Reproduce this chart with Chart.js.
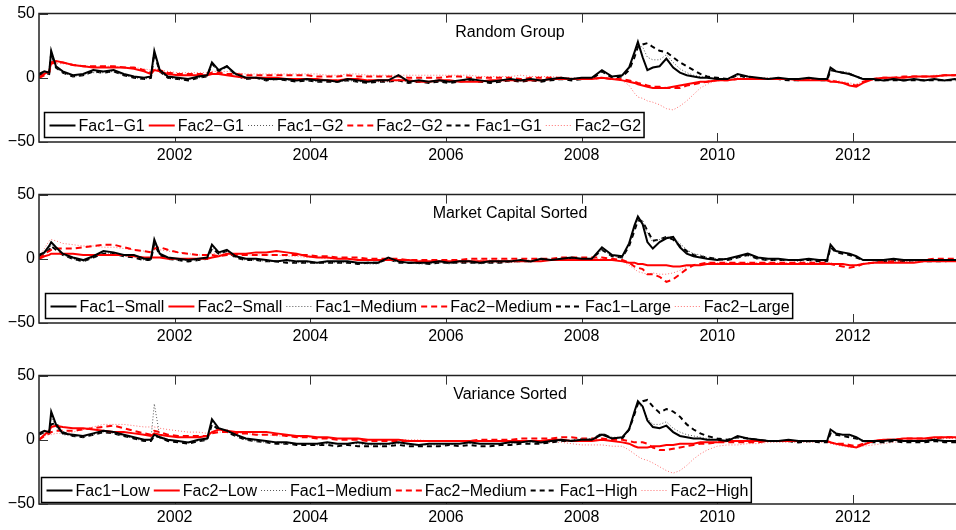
<!DOCTYPE html>
<html>
<head>
<meta charset="utf-8">
<script src="https://cdn.jsdelivr.net/npm/chart.js@4.4.1/dist/chart.umd.min.js"></script>
<style>
  html, body { margin: 0; padding: 0; background: #fff; overflow: hidden; }
  .panel { position: absolute; left: 0; width: 956px; height: 166px; }
</style>
</head>
<body>
<div class="panel" style="top:0px"><canvas id="c1" width="956" height="166"></canvas></div>
<div class="panel" style="top:181px"><canvas id="c2" width="956" height="166"></canvas></div>
<div class="panel" style="top:362px"><canvas id="c3" width="956" height="166"></canvas></div>
<script>
// Dates (decimal years) shared by every series
const dates = [
  2000.00, 2000.08, 2000.15, 2000.18, 2000.25, 2000.35, 2000.50, 2000.65, 2000.80, 2000.95,
  2001.10, 2001.25, 2001.40, 2001.55, 2001.65, 2001.70, 2001.78, 2001.90, 2002.05, 2002.20,
  2002.35, 2002.48, 2002.55, 2002.65, 2002.77, 2002.90, 2003.05, 2003.20, 2003.35, 2003.50,
  2003.65, 2003.80, 2003.95, 2004.10, 2004.25, 2004.40, 2004.55, 2004.70, 2004.85, 2005.00,
  2005.15, 2005.30, 2005.45, 2005.60, 2005.75, 2005.90, 2006.05, 2006.20, 2006.35, 2006.50,
  2006.65, 2006.80, 2006.95, 2007.10, 2007.25, 2007.40, 2007.55, 2007.70, 2007.85, 2008.00,
  2008.15, 2008.30, 2008.45, 2008.60, 2008.70, 2008.78, 2008.83, 2008.90, 2008.97, 2009.05,
  2009.15, 2009.25, 2009.35, 2009.45, 2009.55, 2009.65, 2009.75, 2009.85, 2010.00, 2010.15,
  2010.30, 2010.45, 2010.60, 2010.75, 2010.90, 2011.05, 2011.20, 2011.35, 2011.50, 2011.62,
  2011.67, 2011.75, 2011.85, 2011.95, 2012.05, 2012.15, 2012.30, 2012.45, 2012.60, 2012.75,
  2012.90, 2013.05, 2013.20, 2013.35, 2013.50, 2013.60
];

const xTicks = [2002, 2004, 2006, 2008, 2010, 2012];
const yTicks = [-50, 0, 50];

// --- Random Group ---
const randomNames = ['Fac1\u2212G1', 'Fac2\u2212G1', 'Fac1\u2212G2', 'Fac2\u2212G2', 'Fac1\u2212G1', 'Fac2\u2212G2'];
const randFac1G1 = [
  3, 5, 4, 21, 9, 5, 2, 3, 6, 5,
  6, 3, 1, 0, 1, 21, 6, 1, 0, -1,
  1, 2, 12, 6, 9, 3, 0, 0, -1, -1,
  -1, -2, -1, -2, -2, -3, -1, -2, -3, -2,
  -2, 2, -3, -2, -3, -2, -3, -2, -1, -2,
  -3, -2, -1, -2, -1, -2, -1, 0, -1, 0,
  0, 6, 1, 2, 8, 20, 28, 16, 6, 8,
  9, 15, 8, 4, 2, 1, 0, 0, -1, -1,
  3, 1, 0, -1, 0, -1, -1, 0, -1, -1,
  8, 5, 4, 3, 1, -1, -1, -2, -1, -2,
  -1, -2, -1, -2, -1, -2
];
const randFac2G1 = [
  0, 3, 5, 12, 13, 12, 10, 9, 8, 8,
  8, 8, 7, 5, 3, 6, 5, 3, 2, 2,
  2, 2, 3, 3, 2, 1, 0, 0, 0, 0,
  -1, -1, -1, -1, -2, -2, -1, -1, -2, -2,
  -2, -2, -2, -3, -3, -2, -2, -3, -3, -3,
  -2, -2, -2, -2, -2, -2, -1, -1, -1, -1,
  -1, 0, -1, -2, -3, -4, -5, -6, -7, -8,
  -8, -8, -7, -6, -5, -4, -3, -3, -2, -2,
  -1, -1, -1, -1, -1, -1, -2, -2, -2, -2,
  -3, -3, -4, -6, -7, -4, -1, 0, 0, 0,
  1, 1, 1, 2, 2, 3
];
const randFac1G2 = [
  2, 4, 3, 18, 8, 4, 1, 2, 4, 4,
  5, 2, 0, -1, 0, 19, 5, 0, -1, -1,
  0, 1, 10, 5, 8, 2, -1, 0, -2, -1,
  -2, -2, -2, -3, -2, -3, -2, -3, -3, -3,
  -3, -2, -3, -3, -3, -3, -3, -3, -2, -3,
  -3, -3, -2, -2, -2, -2, -1, 0, -1, 0,
  0, 5, 1, 2, 7, 18, 25, 24, 16, 14,
  14, 18, 12, 7, 4, 2, 1, 0, -1, -1,
  2, 1, 0, -1, -1, -1, -2, -1, -1, -1,
  7, 5, 5, 4, 1, -1, -1, -2, -1, -2,
  -1, -2, -1, -2, -1, -2
];
const randFac2G2 = [
  0, 2, 4, 11, 12, 12, 10, 9, 9, 9,
  9, 8, 8, 6, 4, 7, 6, 4, 3, 3,
  3, 3, 4, 4, 3, 3, 2, 2, 2, 2,
  2, 2, 2, 1, 1, 1, 2, 1, 1, 1,
  1, 1, 0, 0, 0, 0, 1, 1, 0, 0,
  0, 0, 0, -1, 0, 0, 0, 0, -1, -1,
  -1, 0, -1, -1, -2, -3, -4, -5, -6, -7,
  -7, -8, -8, -8, -6, -5, -4, -3, -2, -2,
  -1, -1, -1, -1, -1, -1, -1, -1, -1, -2,
  -2, -3, -4, -5, -6, -3, -1, 0, 0, 1,
  1, 1, 1, 2, 2, 2
];
const randFac1G1b = [
  2, 4, 3, 19, 8, 4, 1, 2, 5, 4,
  5, 2, 0, -1, 0, 19, 5, 0, -1, -2,
  0, 1, 11, 5, 9, 2, -1, 0, -2, -1,
  -2, -3, -2, -3, -3, -3, -2, -3, -4, -3,
  -3, -2, -4, -3, -4, -3, -4, -3, -2, -3,
  -4, -3, -2, -3, -2, -3, -2, -1, -2, -1,
  -1, 5, 0, 1, 6, 16, 24, 26, 27, 24,
  21, 20, 16, 12, 9, 6, 3, 1, 0, -1,
  2, 0, -1, -1, -1, -2, -2, -1, -2, -2,
  6, 5, 4, 3, 1, -1, -2, -2, -2, -2,
  -2, -2, -2, -2, -2, -2
];
const randFac2G2b = [
  1, 3, 5, 10, 11, 11, 10, 9, 9, 9,
  9, 8, 8, 7, 6, 7, 6, 5, 4, 4,
  4, 4, 5, 5, 5, 4, 3, 3, 3, 3,
  3, 3, 3, 3, 2, 2, 3, 3, 2, 2,
  2, 2, 2, 2, 2, 2, 2, 2, 2, 1,
  1, 1, 1, 2, 1, 1, 1, 0, 0, 0,
  0, 0, -1, -2, -6, -12, -15, -16, -18, -19,
  -21, -24, -25, -22, -18, -13, -8, -5, -2, -1,
  0, 0, 0, 0, -1, -1, -1, -1, -1, -1,
  -2, -2, -3, -4, -5, -3, -1, 0, 0, 1,
  1, 1, 2, 2, 2, 2
];

// --- Market Capital Sorted ---
const capNames = ['Fac1\u2212Small', 'Fac2\u2212Small', 'Fac1\u2212Medium', 'Fac2\u2212Medium', 'Fac1\u2212Large', 'Fac2\u2212Large'];
const capFac1Small = [
  3, 5, 10, 13, 9, 4, 1, -1, 2, 6,
  5, 3, 3, 0, 0, 15, 4, 1, 0, -1,
  0, 1, 11, 5, 7, 2, 0, 0, -1, -2,
  -1, -2, -2, -3, -2, -2, -2, -3, -3, -3,
  1, -2, -3, -3, -3, -2, -3, -2, -2, -3,
  -2, -2, -2, -1, -2, 0, -1, 0, 1, 0,
  0, 9, 3, 2, 12, 26, 33, 27, 13, 8,
  13, 16, 17, 9, 4, 2, 1, 0, -1, 0,
  2, 4, 1, 0, 0, -1, -1, 0, -1, -1,
  11, 6, 5, 4, 2, -1, -1, -1, 0, -1,
  -1, -1, -1, -1, -1, -1
];
const capFac2Small = [
  0, 2, 3, 4, 4, 4, 4, 3, 3, 3,
  3, 3, 2, 1, 1, 1, 1, 0, 0, 0,
  0, 0, 1, 2, 4, 4, 4, 5, 5, 6,
  5, 4, 2, 1, 1, 0, 0, -1, -1, -1,
  -1, -1, -1, -2, -2, -2, -2, -2, -2, -2,
  -2, -2, -2, -2, -2, -2, -1, -1, -1, -1,
  -1, -1, -1, -2, -3, -3, -4, -4, -5, -5,
  -5, -5, -6, -6, -5, -5, -5, -4, -4, -4,
  -4, -4, -4, -4, -4, -4, -4, -4, -4, -4,
  -4, -4, -4, -5, -5, -4, -3, -3, -3, -3,
  -3, -2, -2, -2, -2, -2
];
const capFac1Medium = [
  2, 4, 8, 11, 8, 3, 0, -2, 1, 5,
  4, 2, 2, -1, -1, 13, 4, 0, -1, -1,
  -1, 0, 9, 4, 6, 1, -1, -1, -2, -2,
  -2, -3, -3, -3, -3, -3, -3, -3, -4, -4,
  0, -3, -3, -4, -4, -3, -4, -3, -3, -4,
  -3, -3, -3, -2, -2, -1, -1, -1, 0, -1,
  -1, 7, 2, 1, 11, 24, 31, 30, 20, 13,
  15, 17, 17, 12, 7, 4, 3, 1, 0, -1,
  1, 3, 0, -1, -1, -1, -2, -1, -1, -2,
  10, 6, 5, 4, 2, -1, -1, -2, -1, -2,
  -2, -2, -2, -2, -2, -2
];
const capFac2Medium = [
  0, 4, 6, 7, 8, 8, 8, 9, 10, 11,
  11, 9, 7, 6, 5, 8, 9, 7, 5, 4,
  3, 3, 3, 2, 3, 3, 3, 3, 3, 3,
  3, 3, 3, 2, 2, 1, 1, 1, 0, 0,
  0, 0, -1, -1, -1, -1, -1, -1, 0, 0,
  0, 0, 0, 0, 0, 0, 0, 1, 1, 1,
  1, 1, 0, -1, -3, -6, -7, -8, -12, -12,
  -14, -18, -16, -12, -8, -5, -4, -3, -3, -3,
  -3, -3, -3, -3, -3, -3, -3, -3, -3, -3,
  -4, -5, -6, -7, -6, -4, -3, -2, -2, -1,
  -1, -1, 0, 0, 0, 0
];
const capFac1Large = [
  2, 4, 7, 10, 7, 3, 0, -2, 1, 4,
  4, 2, 1, -1, -1, 12, 3, 0, -1, -2,
  -1, 0, 8, 4, 6, 1, -1, -1, -2, -2,
  -3, -3, -3, -3, -3, -3, -3, -4, -3, -3,
  0, -3, -3, -3, -4, -3, -3, -3, -3, -3,
  -3, -3, -2, -2, -2, -1, -1, 0, 0, -1,
  0, 7, 2, 1, 10, 22, 30, 29, 22, 14,
  15, 17, 15, 10, 6, 3, 2, 1, 0, -1,
  1, 3, 0, -1, -1, -1, -1, -1, -2, -2,
  9, 5, 4, 3, 1, -1, -1, -2, -1, -2,
  -1, -2, -2, -2, -1, -2
];
const capFac2Large = [
  2, 8, 14, 15, 14, 12, 11, 10, 10, 9,
  9, 8, 7, 6, 5, 7, 7, 6, 5, 4,
  3, 3, 4, 4, 4, 4, 3, 3, 3, 3,
  2, 2, 1, 1, 0, 0, 0, 0, -1, -1,
  -1, -1, -1, -1, -2, -2, -2, -2, -1, -1,
  -1, -1, -1, -1, -1, -1, -1, -1, 0, 0,
  0, 0, -1, -2, -5, -8, -10, -11, -12, -11,
  -12, -12, -11, -9, -6, -5, -4, -3, -3, -3,
  -3, -3, -3, -3, -3, -3, -3, -3, -3, -3,
  -3, -4, -4, -5, -5, -4, -3, -3, -3, -2,
  -2, -2, -2, -2, -2, -2
];

// --- Variance Sorted ---
const varNames = ['Fac1\u2212Low', 'Fac2\u2212Low', 'Fac1\u2212Medium', 'Fac2\u2212Medium', 'Fac1\u2212High', 'Fac2\u2212High'];
const varFac1Low = [
  5, 7, 6, 22, 12, 5, 4, 3, 5, 7,
  6, 4, 2, 0, 0, 4, 2, 0, -1, -2,
  0, 1, 16, 9, 7, 4, 1, 0, -1, -2,
  -2, -3, -3, -3, -2, -3, -3, -2, -3, -3,
  -3, -2, -3, -4, -3, -3, -3, -3, -2, -3,
  -3, -3, -2, -2, -1, -2, -1, 0, -1, 0,
  0, 4, 1, 2, 8, 22, 30, 26, 15, 10,
  9, 11, 6, 3, 2, 1, 1, 0, 0, -1,
  3, 1, 0, -1, -1, 0, -1, -1, -1, -1,
  8, 5, 4, 4, 2, -1, -1, -1, 0, -1,
  -1, -1, 0, -1, -1, 0
];
const varFac2Low = [
  0, 4, 7, 10, 11, 10, 9, 9, 8, 7,
  6, 6, 5, 4, 3, 5, 4, 3, 2, 2,
  2, 3, 6, 8, 7, 6, 6, 6, 6, 5,
  4, 3, 3, 2, 2, 1, 1, 1, 0, 0,
  0, 0, -1, -1, -1, -1, -1, -1, -1, -1,
  -1, -1, -1, -1, -1, -1, 0, 0, -1, -1,
  -1, 0, -1, -2, -3, -5, -6, -6, -6, -5,
  -5, -4, -4, -3, -3, -3, -2, -2, -2, -1,
  -1, -1, -1, -1, -1, -1, -1, -1, -1, -1,
  -2, -3, -4, -5, -6, -4, -1, 0, 0, 1,
  1, 1, 2, 2, 2, 2
];
const varFac1Medium = [
  4, 6, 5, 18, 10, 4, 3, 2, 4, 6,
  5, 3, 1, -1, 0, 28, 3, 0, -1, -2,
  -1, 0, 14, 8, 8, 3, 0, -1, -2, -2,
  -3, -3, -3, -4, -3, -3, -3, -3, -4, -4,
  -4, -3, -4, -4, -4, -4, -4, -3, -3, -3,
  -3, -3, -3, -2, -2, -2, -1, -1, 0, 1,
  1, 5, 2, 2, 8, 22, 28, 25, 17, 12,
  12, 14, 9, 6, 4, 3, 2, 1, 0, -1,
  2, 1, 0, -1, -1, -1, -1, -1, -1, -1,
  6, 5, 4, 3, 1, -1, -1, -1, 0, -1,
  -1, -1, 0, -1, -1, -1
];
const varFac2Medium = [
  0, 3, 5, 6, 7, 7, 7, 8, 9, 10,
  11, 9, 7, 5, 4, 7, 6, 4, 3, 3,
  3, 3, 5, 6, 6, 5, 5, 4, 4, 4,
  3, 2, 2, 1, 1, 0, 0, 0, -1, -1,
  -1, -1, -1, -1, -1, -1, -1, -1, -1, 0,
  0, 0, 0, 1, 1, 1, 1, 2, 2, 1,
  1, 1, 0, 0, -1, -2, -2, -2, -3, -6,
  -8, -8, -7, -6, -5, -4, -3, -3, -2, -2,
  -2, -2, -2, -1, -1, -1, -1, -1, -1, -1,
  -2, -3, -3, -4, -5, -3, -1, 0, 0, 1,
  1, 1, 1, 2, 2, 2
];
const varFac1High = [
  4, 6, 5, 12, 13, 6, 3, 2, 4, 6,
  5, 3, 1, -1, -1, 3, 2, -1, -2, -3,
  -1, 0, 12, 8, 6, 3, 0, -1, -2, -3,
  -3, -4, -4, -4, -4, -5, -4, -5, -5, -5,
  -5, -4, -5, -5, -5, -5, -4, -5, -4, -5,
  -5, -4, -4, -3, -3, -3, -2, -1, -1, 0,
  0, 5, 1, 1, 8, 20, 28, 30, 31, 26,
  21, 24, 22, 18, 12, 8, 5, 3, 1, 0,
  2, 1, 0, -1, -1, -1, -2, -1, -2, -2,
  5, 4, 3, 2, 1, -1, -2, -2, -1, -2,
  -2, -2, -1, -2, -2, -2
];
const varFac2High = [
  2, 3, 4, 4, 5, 5, 6, 8, 10, 12,
  12, 12, 11, 10, 10, 10, 9, 8, 7, 6,
  6, 5, 6, 6, 6, 5, 5, 4, 4, 3,
  3, 2, 2, 2, 1, 1, 1, 0, 0, 0,
  0, 0, 0, 0, -1, -1, -1, -1, -1, -1,
  -1, -1, -1, -1, -1, -2, -2, -2, -3, -4,
  -4, -4, -5, -5, -8, -11, -13, -15, -16, -18,
  -21, -24, -26, -24, -20, -15, -11, -8, -5, -4,
  -4, -3, -3, -2, -2, -2, -2, -2, -2, -2,
  -3, -4, -5, -6, -6, -5, -4, -3, -2, -1,
  -1, 0, 1, 1, 1, 1
];

// line styles, same order in every panel
const styles = [
  { color: '#000000', width: 2, dash: [] },
  { color: '#ff0000', width: 2, dash: [] },
  { color: '#555555', width: 1, dash: [1, 2] },
  { color: '#ff0000', width: 2, dash: [6, 4] },
  { color: '#000000', width: 2, dash: [5, 4] },
  { color: '#ff7070', width: 1, dash: [1, 2] }
];

const FONT = '"Liberation Sans", Arial, Helvetica, sans-serif';
Chart.defaults.font.family = FONT;
Chart.defaults.font.size = 16;
Chart.defaults.color = '#000';

// axes box with inward ticks, drawn over the lines
const frame = {
  id: 'frame',
  afterDatasetsDraw(chart) {
    const { ctx, chartArea: a, scales } = chart;
    ctx.save();
    ctx.strokeStyle = '#222';
    ctx.lineWidth = 1.5;
    ctx.beginPath();
    ctx.moveTo(a.right + 2, a.top);
    ctx.lineTo(a.left, a.top);
    ctx.lineTo(a.left, a.bottom);
    ctx.lineTo(a.right + 2, a.bottom);
    ctx.stroke();
    ctx.lineWidth = 1;
    ctx.strokeStyle = '#333';
    const tl = 9;
    ctx.beginPath();
    xTicks.forEach(v => {
      const x = Math.round(scales.x.getPixelForValue(v)) + 0.5;
      ctx.moveTo(x, a.top); ctx.lineTo(x, a.top + tl);
      ctx.moveTo(x, a.bottom); ctx.lineTo(x, a.bottom - tl);
    });
    yTicks.forEach(v => {
      const y = Math.round(scales.y.getPixelForValue(v)) + 0.5;
      ctx.moveTo(a.left, y); ctx.lineTo(a.left + tl, y);
    });
    ctx.stroke();
    ctx.restore();
  }
};

// title text inside the axes
const innerTitle = {
  id: 'innerTitle',
  afterDatasetsDraw(chart, args, opts) {
    const { ctx, chartArea: a } = chart;
    ctx.save();
    ctx.font = '16px ' + FONT;
    ctx.fillStyle = '#000';
    ctx.textAlign = 'center';
    ctx.textBaseline = 'middle';
    ctx.fillText(opts.text, 510, a.top + 19);
    ctx.restore();
  }
};

// one-row legend box at the bottom-left of the axes
const legendBox = {
  id: 'legendBox',
  afterDatasetsDraw(chart, args, opts) {
    const { ctx, chartArea: a } = chart;
    const sets = chart.data.datasets;
    ctx.save();
    ctx.font = '16px ' + FONT;
    const widths = sets.map(ds => ctx.measureText(ds.label).width);
    const sample = 26, gap = 3, sep = 4, pad = 5, h = 25;
    let w = pad + 3;
    widths.forEach((tw, i) => { w += sample + gap + tw + (i < widths.length - 1 ? sep : 0); });
    const x0 = Math.round(a.left + opts.left) + 0.5;
    const y0 = Math.round(a.bottom - opts.bottom - h) + 0.5;
    ctx.fillStyle = '#fff';
    ctx.fillRect(x0, y0, w, h);
    ctx.strokeStyle = '#000';
    ctx.lineWidth = 1.5;
    ctx.strokeRect(x0, y0, w, h);
    let x = x0 + pad;
    const yc = Math.round(y0 + h / 2) + 0.5;
    sets.forEach((ds, i) => {
      ctx.beginPath();
      ctx.setLineDash(ds.borderDash);
      ctx.strokeStyle = ds.borderColor;
      ctx.lineWidth = ds.borderWidth;
      ctx.moveTo(x, yc);
      ctx.lineTo(x + sample, yc);
      ctx.stroke();
      ctx.setLineDash([]);
      ctx.fillStyle = '#000';
      ctx.textBaseline = 'middle';
      ctx.fillText(ds.label, x + sample + gap, yc + 1);
      x += sample + gap + widths[i] + sep;
    });
    ctx.restore();
  }
};

function makePanel(id, title, names, series, legendPos) {
  const datasets = series.map((vals, i) => ({
    label: names[i],
    data: dates.map((d, k) => ({ x: d, y: vals[k] })),
    borderColor: styles[i].color,
    borderWidth: styles[i].width,
    borderDash: styles[i].dash,
    pointRadius: 0,
    tension: 0,
    fill: false
  }));
  return new Chart(document.getElementById(id), {
    type: 'line',
    data: { datasets },
    options: {
      responsive: false,
      animation: false,
      devicePixelRatio: 1,
      layout: { padding: { top: 12, left: 0, right: 0, bottom: 0 } },
      scales: {
        x: {
          type: 'linear',
          min: 2000,
          max: 2013.52,
          grid: { display: false, drawTicks: false },
          border: { display: false },
          afterBuildTicks: s => { s.ticks = xTicks.map(v => ({ value: v })); },
          afterFit: s => { s.height = 24; },
          ticks: { padding: 4, maxRotation: 0, autoSkip: false, callback: v => String(v) }
        },
        y: {
          min: -50,
          max: 50,
          grid: { display: false, drawTicks: false },
          border: { display: false },
          afterBuildTicks: s => { s.ticks = yTicks.map(v => ({ value: v })); },
          afterFit: s => { s.width = 39; },
          ticks: { padding: 4, callback: v => String(v).replace('-', '\u2212') }
        }
      },
      plugins: {
        legend: { display: false },
        tooltip: { enabled: false },
        innerTitle: { text: title },
        legendBox: legendPos
      }
    },
    plugins: [frame, innerTitle, legendBox]
  });
}

makePanel('c1', 'Random Group', randomNames,
  [randFac1G1, randFac2G1, randFac1G2, randFac2G2, randFac1G1b, randFac2G2b],
  { left: 5, bottom: 5 });
makePanel('c2', 'Market Capital Sorted', capNames,
  [capFac1Small, capFac2Small, capFac1Medium, capFac2Medium, capFac1Large, capFac2Large],
  { left: 6, bottom: 5 });
makePanel('c3', 'Variance Sorted', varNames,
  [varFac1Low, varFac2Low, varFac1Medium, varFac2Medium, varFac1High, varFac2High],
  { left: 2, bottom: 2 });
</script>
</body>
</html>
